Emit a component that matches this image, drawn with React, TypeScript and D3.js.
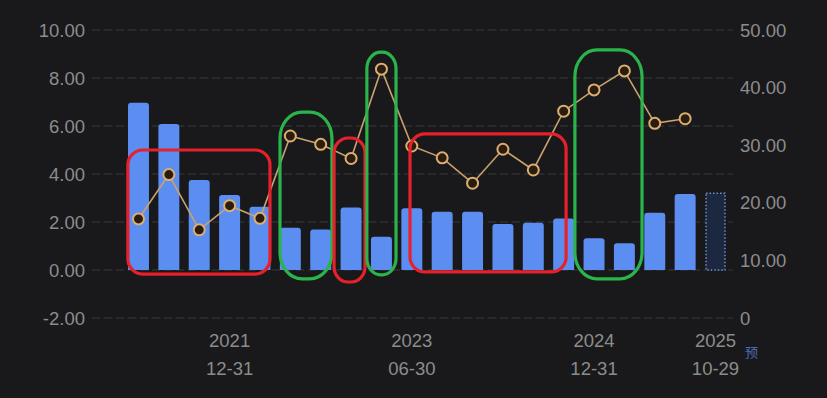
import React from "react";
import * as d3 from "d3";

// quarterly report dates, the last one is the forecast
const categories = [
  "2021-03-31", "2021-06-30", "2021-09-30", "2021-12-31",
  "2022-03-31", "2022-06-30", "2022-09-30", "2022-12-31",
  "2023-03-31", "2023-06-30", "2023-09-30", "2023-12-31",
  "2024-03-31", "2024-06-30", "2024-09-30", "2024-12-31",
  "2025-03-31", "2025-06-30", "2025-09-30", "2025-10-29",
];
// bars (left axis)
const barValues = [
  6.97, 6.08, 3.75, 3.13, 2.64, 1.76, 1.69, 2.6, 1.39, 2.57,
  2.43, 2.43, 1.92, 1.97, 2.15, 1.32, 1.11, 2.39, 3.17, 3.2,
];
// line (right axis), no value for the forecast
const lineValues = [
  17.2, 24.9, 15.3, 19.5, 17.3, 31.6, 30.15, 27.7, 43.2, 29.86,
  27.8, 23.4, 29.3, 25.7, 35.9, 39.6, 42.9, 33.8, 34.6,
];
const xTicks = ["2021-12-31", "2023-06-30", "2024-12-31", "2025-10-29"];
const leftTicks = [-2, 0, 2, 4, 6, 8, 10];
const rightTicks = [0, 10, 20, 30, 40, 50];

// hand drawn highlight boxes: from/to in bar index units, top/bottom in left axis units
const boxFrom = [-0.35, 4.66, 6.44, 7.52, 8.94, 14.37];
const boxTo = [4.33, 6.37, 7.46, 8.48, 14.08, 16.58];
const boxTop = [5.0, 6.58, 5.5, 9.08, 5.67, 9.17];
const boxBottom = [-0.17, -0.37, -0.5, -0.2, -0.08, -0.37];
const boxColor = ["red", "green", "red", "green", "red", "green"];

const W = 827;
const H = 398;
const FONT = "'Liberation Sans', Helvetica, Arial, sans-serif";

export default function App() {
  const x = d3.scaleBand<string>().domain(categories).range([123.3, 730.7]).paddingInner(0.31).paddingOuter(0.155);
  const yL = d3.scaleLinear().domain([-2, 10]).range([318, 30]);
  const yR = d3.scaleLinear().domain([0, 50]).range([318, 30]);
  const bw = x.bandwidth();
  const cx = (i: number) => (x(categories[i]) as number) + bw / 2;
  const idx = d3.scaleLinear().domain([0, categories.length - 1]).range([cx(0), cx(categories.length - 1)]);

  const line = d3.line<number>()
    .x((_, i) => cx(i))
    .y((d) => yR(d));

  const lastIdx = categories.length - 1;

  return (
    <svg width={W} height={H} style={{ position: "absolute", left: 0, top: 0, display: "block" }}>
      <rect width={W} height={H} fill="#19191b" />
      {leftTicks.map((t) => (
        <g key={t}>
          <line x1={92} x2={733} y1={yL(t)} y2={yL(t)} stroke="#3b3b3e" strokeWidth={1} strokeDasharray="8 4" />
          <text x={85} y={yL(t)} textAnchor="end" dominantBaseline="central" fill="#8c8c8c" fontSize={18.5} fontFamily={FONT}>
            {t.toFixed(2)}
          </text>
        </g>
      ))}
      {rightTicks.map((t) => (
        <text key={t} x={740} y={yR(t)} dominantBaseline="central" fill="#8c8c8c" fontSize={18.5} fontFamily={FONT}>
          {t === 0 ? "0" : t.toFixed(2)}
        </text>
      ))}
      {barValues.map((v, i) => {
        const x0 = x(categories[i]) as number;
        const top = yL(v);
        const base = yL(0);
        if (i === lastIdx) {
          // forecast bar: dotted outline
          return (
            <rect key={i} x={x0 + 1} y={top} width={bw - 2} height={base - top}
              fill="#1c2740" stroke="#6f8fd0" strokeWidth={1.5} strokeDasharray="1.5 2" />
          );
        }
        const r = 3;
        const d = `M${x0},${base}V${top + r}Q${x0},${top} ${x0 + r},${top}H${x0 + bw - r}Q${x0 + bw},${top} ${x0 + bw},${top + r}V${base}Z`;
        return <path key={i} d={d} fill="#5b8ef0" />;
      })}
      <path d={line(lineValues) ?? ""} fill="none" stroke="#c9a26e" strokeWidth={1.6} />
      {lineValues.map((v, i) => (
        <circle key={i} cx={cx(i)} cy={yR(v)} r={5.5} fill="#2a1d10" stroke="#dcae70" strokeWidth={2} />
      ))}
      {xTicks.map((t) => {
        const px = (x(t) as number) + bw / 2;
        return (
          <g key={t}>
            <text x={px} y={340} textAnchor="middle" dominantBaseline="central" fill="#8c8c8c" fontSize={18.5} fontFamily={FONT}>{t.slice(0, 4)}</text>
            <text x={px} y={368} textAnchor="middle" dominantBaseline="central" fill="#8c8c8c" fontSize={18.5} fontFamily={FONT}>{t.slice(5)}</text>
          </g>
        );
      })}
      <text x={745} y={351} dominantBaseline="central" fill="#4b6bb0" fontSize={13} fontFamily="'Noto Sans CJK SC', sans-serif">预</text>
      {boxFrom.map((f, i) => {
        const x0 = idx(f);
        const x1 = idx(boxTo[i]);
        const y0 = yL(boxTop[i]);
        const y1 = yL(boxBottom[i]);
        const w = x1 - x0;
        const green = boxColor[i] === "green";
        const rx = green ? Math.min(22, w / 2.1) : Math.min(15, w / 2.2);
        return (
          <rect key={i} x={x0} y={y0} width={w} height={y1 - y0} rx={rx} ry={green ? rx * 1.2 : Math.min(15, rx * 1.3)}
            fill="none" stroke={green ? "#2bb34c" : "#e6212b"} strokeWidth={3.2} />
        );
      })}
    </svg>
  );
}
